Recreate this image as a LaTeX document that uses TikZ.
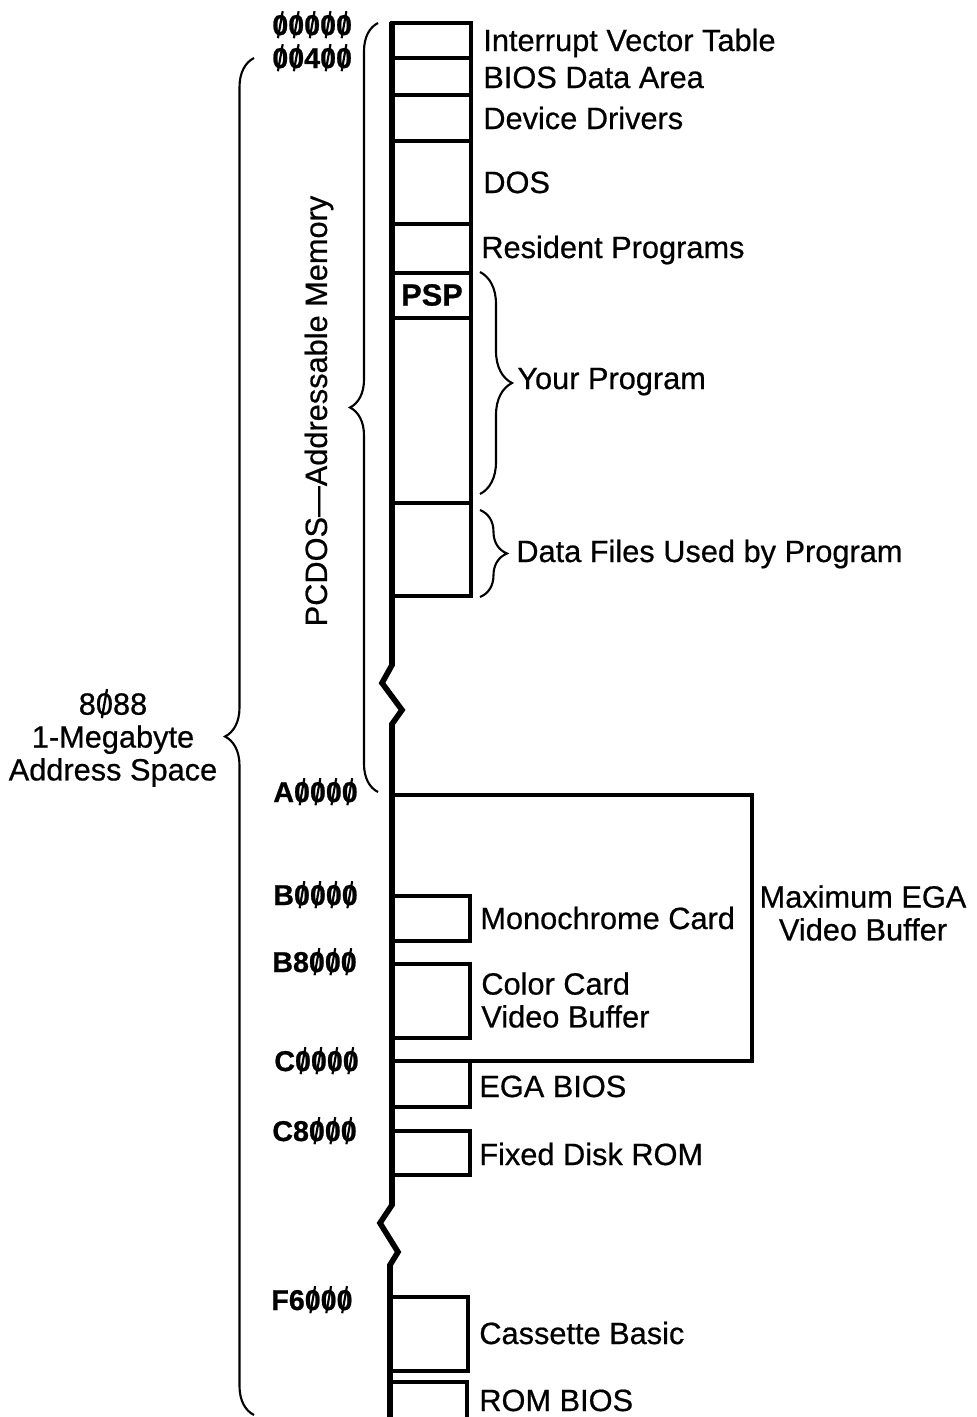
\documentclass[tikz,border=0pt]{standalone}
\usepackage{fontspec}
\setmainfont{Liberation Sans}
\newfontfamily\heavy{Liberation Sans}[FakeBold=0.6]
\newfontfamily\heavyaddr{Liberation Sans Bold}[FakeBold=0.8]
\usetikzlibrary{decorations.pathreplacing}

% slashed zero as used in the address labels
\newcommand{\sz}{\ooalign{0\cr\hidewidth\raisebox{-0.12em}{\rotatebox[origin=c]{-10}{\rule{0.075em}{0.96em}}}\hidewidth\cr}}

\begin{document}
\begin{tikzpicture}[x=0.02cm, y=-0.02cm,
    spine/.style={line width=3.2pt},
    cell/.style={line width=2pt},
    brc/.style={decorate, decoration={brace, amplitude=#1}, line width=1.2pt},
    brc/.default=0.56cm,
    lbl/.style={anchor=base west, inner sep=0pt, font=\fontsize{17.5}{18.7}\heavy},
    txt/.style={inner sep=0pt, font=\fontsize{17.5}{18.7}\heavy},
    addr/.style={anchor=base west, inner sep=0pt, font=\fontsize{16.3}{18}\heavyaddr}]

    \useasboundingbox (0,0) rectangle (977,1417);

    % ==========================================
    % TOP COLUMN: PCDOS memory
    % ==========================================
    \draw[cell] (392,23) rectangle (471,596);
    \foreach \y in {58,95,141,224,273,318,503}
        \draw[cell] (392,\y) -- (471,\y);

    % ==========================================
    % LOWER BOXES: video and ROM
    % ==========================================
    % Maximum EGA video buffer
    \draw[cell] (392,795) -| (752,1061) -- (392,1061);
    % Monochrome, colour card
    \draw[cell] (392,896) -| (470,941) -- (392,941);
    \draw[cell] (392,964) -| (470,1038) -- (392,1038);
    % EGA BIOS, fixed disk
    \draw[cell] (470,1061) |- (392,1107);
    \draw[cell] (392,1131) -| (470,1175) -- (392,1175);
    % Cassette basic, ROM BIOS
    \draw[cell] (390,1297) -| (468,1371) -- (390,1371);
    \draw[cell] (390,1382) -| (467,1417);

    % Spine with the two breaks
    \draw[spine] (392,22) -- (392,665) -- (382,683) -- (402,710) -- (392,724)
        -- (392,1205) -- (380,1223) -- (398,1252) -- (390,1265) -- (390,1417);

    % ==========================================
    % BRACES
    % ==========================================
    \draw[brc=0.58cm] (254,1415) -- (254,58);
    \draw[brc] (378,792) -- (378,23);
    \draw[brc=0.64cm] (480,272) -- (480,494);
    \draw[brc=0.54cm] (480,510) -- (480,597);

    % ==========================================
    % ADDRESSES
    % ==========================================
    \node[addr] (a00000) at (272,35) {\sz\sz\sz\sz\sz};
    \node[addr] (a00400) at (272,68) {\sz\sz4\sz\sz};
    \node[addr] (aA0000) at (273,802) {A\sz\sz\sz\sz};
    \node[addr] (aB0000) at (273,905) {B\sz\sz\sz\sz};
    \node[addr] (aB8000) at (272,972) {B8\sz\sz\sz};
    \node[addr] (aC0000) at (274,1071) {C\sz\sz\sz\sz};
    \node[addr] (aC8000) at (272,1141) {C8\sz\sz\sz};
    \node[addr] (aF6000) at (271,1310) {F6\sz\sz\sz};

    % ==========================================
    % LABELS
    % ==========================================
    \node[lbl] (ivt) at (483,51) {Interrupt Vector Table};
    \node[lbl] (bda) at (483,88) {BIOS Data Area};
    \node[lbl] (dev) at (483,129) {Device Drivers};
    \node[lbl] (dos) at (483,193) {DOS};
    \node[lbl] (res) at (481,258) {Resident Programs};
    \node[txt, font=\fontsize{17.5}{18.7}\heavyaddr] (psp) at (432,295) {PSP};
    \node[lbl] (prog) at (517,389) {Your Program};
    \node[lbl] (data) at (516,562) {Data Files Used by Program};
    \node[txt, rotate=90] (pcdos) at (319,411) {PCDOS—Addressable Memory};
    \node[txt, align=center] (space) at (113,740) {8\sz88\\1-Megabyte\\Address Space};

    \node[lbl] (mono) at (480,929) {Monochrome Card};
    \node[txt, anchor=west, align=left] (color) at (481,1000) {Color Card\\Video Buffer};
    \node[txt, align=center] (maxega) at (863,913) {Maximum EGA\\Video Buffer};
    \node[lbl] (egabios) at (479,1097) {EGA BIOS};
    \node[lbl] (fdrom) at (479,1165) {Fixed Disk ROM};
    \node[lbl] (cas) at (479,1344) {Cassette Basic};
    \node[lbl] (rombios) at (479,1411) {ROM BIOS};

\end{tikzpicture}
\end{document}
